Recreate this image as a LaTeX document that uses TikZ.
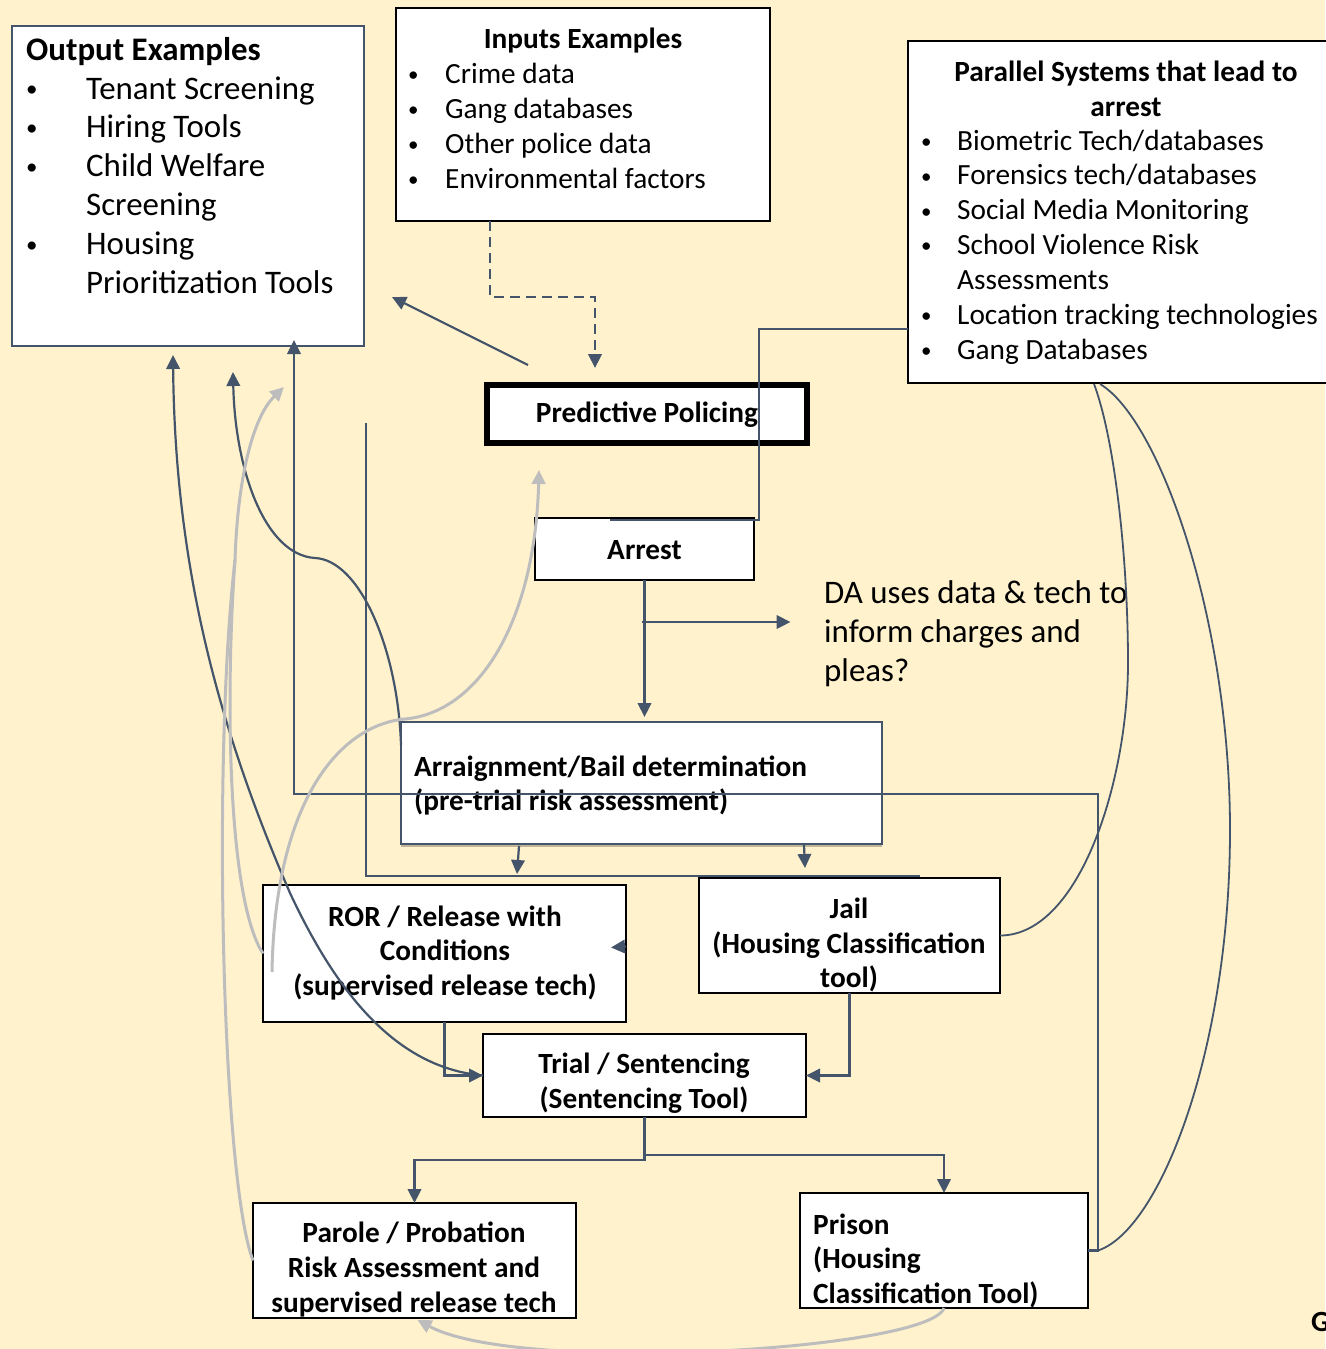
\documentclass[tikz,border=0pt]{standalone}
\usepackage{fontspec}
\setmainfont{Carlito}
\usetikzlibrary{arrows.meta,shadows,calc}
\definecolor{bgc}{HTML}{FFF2CC}
\definecolor{dk}{HTML}{44546A}
\definecolor{gr}{HTML}{BDBDBD}
\newcommand{\mytab}[2]{\begin{tabular}[t]{@{}#1@{}}#2\end{tabular}}
\newcommand{\mybul}[2]{\raisebox{#2}{\fontsize{#1}{#1}\selectfont\textbullet}}
\begin{document}
\begin{tikzpicture}[x=1pt,y=-1pt,
  >={Triangle[length=14pt,width=13.5pt]},
  box/.style={draw=black, line width=2pt, fill=white, inner sep=0pt, outer sep=0pt},
  conn/.style={draw=dk, line width=2.2pt},
  thin/.style={draw=dk, line width=1.6pt},
  gconn/.style={draw=gr, line width=3pt},
  bfs/.style={font=\fontsize{29.3}{34.7}\selectfont\bfseries, inner sep=0pt},
  rgs/.style={font=\fontsize{29.3}{34.9}\selectfont, inner sep=0pt},
  big/.style={font=\fontsize{32.9}{38.9}\selectfont, inner sep=0pt}]
\fill[bgc] (0,0) rectangle (1325,1349);
\useasboundingbox (0,0) rectangle (1325,1349);

% boxes
\node[box, draw=dk, line width=1.5pt, minimum width=352pt, minimum height=320pt] (out) at (188,186) {};
\node[box, minimum width=374pt, minimum height=213pt] (inp) at (583,114.5) {};
\node[box, minimum width=432pt, minimum height=342pt] (par) at (1124,212) {};
\node[box, line width=6pt, minimum width=320pt, minimum height=58pt] (pp) at (647,414) {};
\node[box, minimum width=219pt, minimum height=62pt] (arrest) at (644.5,549) {};
\node[box, draw=dk, drop shadow={shadow xshift=0pt, shadow yshift=-3pt, opacity=0.25, fill=black}, minimum width=481pt, minimum height=122pt] (arr) at (641.5,783) {};
\node[box, minimum width=363pt, minimum height=137pt] (ror) at (444.5,953.5) {};
\node[box, minimum width=301pt, minimum height=115pt] (jail) at (849.5,935.5) {};
\node[box, minimum width=323pt, minimum height=83pt] (trial) at (644.5,1075.5) {};
\node[box, minimum width=323pt, minimum height=115pt] (parole) at (414.5,1260.5) {};
\node[box, minimum width=288pt, minimum height=115pt] (prison) at (944,1250.5) {};

% texts
\node[big, font=\fontsize{32.9}{38.9}\selectfont\bfseries, anchor=base west] (outT) at (26,60) {Output Examples};
\node[big, anchor=base west] (outL) at (26,99) {\mytab{p{60pt}@{}l}{\mybul{23}{2.5pt} & Tenant Screening\\ \mybul{23}{2.5pt} & Hiring Tools\\ \mybul{23}{2.5pt} & Child Welfare\\ & Screening\\ \mybul{23}{2.5pt} & Housing\\ & Prioritization Tools}};
\node[bfs, anchor=base] (inpT) at (583,48.5) {Inputs Examples};
\node[rgs, anchor=base west] (inpL) at (408,83.3) {\mytab{p{37pt}@{}l}{\mybul{21}{1.8pt} & Crime data\\ \mybul{21}{1.8pt} & Gang databases\\ \mybul{21}{1.8pt} & Other police data\\ \mybul{21}{1.8pt} & Environmental factors}};
\node[bfs, anchor=base] (parT) at (1126,81.7) {\mytab{c}{Parallel Systems that lead to\\arrest}};
\node[rgs, anchor=base west] (parL) at (921,150) {\mytab{p{36pt}@{}l}{\mybul{21}{1.8pt} & Biometric Tech/databases\\ \mybul{21}{1.8pt} & Forensics tech/databases\\ \mybul{21}{1.8pt} & Social Media Monitoring\\ \mybul{21}{1.8pt} & School Violence Risk\\ & Assessments\\ \mybul{21}{1.8pt} & Location tracking technologies\\ \mybul{21}{1.8pt} & Gang Databases}};
\node[bfs, anchor=base] (ppT) at (647,422.7) {Predictive Policing};
\node[bfs, anchor=base] (arrestT) at (644.5,559.3) {Arrest};
\node[bfs, anchor=base west] (arrT) at (414,776) {\mytab{l}{Arraignment/Bail determination\\(pre-trial risk assessment)}};
\node[big, anchor=base west] (da) at (824,603.7) {\mytab{l}{DA uses data \& tech to\\inform charges and\\pleas?}};
\node[bfs, anchor=base] (rorT) at (445,926) {\mytab{c}{ROR / Release with\\Conditions\\(supervised release tech)}};
\node[bfs, anchor=base] (jailT) at (849,918.3) {\mytab{c}{Jail\\(Housing Classification\\tool)}};
\node[bfs, font=\fontsize{29.3}{35.5}\selectfont\bfseries, anchor=base] (trialT) at (644,1073.3) {\mytab{c}{Trial / Sentencing\\(Sentencing Tool)}};
\node[bfs, anchor=base] (paroleT) at (414,1242.7) {\mytab{c}{Parole / Probation\\Risk Assessment and\\supervised release tech}};
\node[bfs, anchor=base west] (prisonT) at (813,1234) {\mytab{l}{Prison\\(Housing\\Classification Tool)}};
\node[bfs, anchor=base west] (gT) at (1311,1331) {G};

% connectors
\draw[conn, dash pattern=on 10pt off 6pt, ->] ($(inp.south west)+(94,0)$) |- (595,297) -- ($(pp.north)+(-52,-17)$);
\draw[conn, ->] ($(pp.north west)+(41,-20)$) -- ($(out.east)+(28,111)$);
\draw[thin] ($(par.west)+(0,117)$) -| ($(arrest.north east)+(5,2)$) -- ($(arrest.north west)+(75,2)$);
\draw[conn, ->] (arrest.south) -- ($(arr.north)+(3,-5)$);
\coordinate (dab) at ($(arrest.south)+(-3,42)$);
\draw[conn, ->] (dab) -- ($(dab)+(149,0)$);
\draw[conn, ->] ($(arr.south west)+(118,2)$) -- ($(arr.south west)+(116,30)$);
\draw[conn, ->] ($(arr.south west)+(403,1)$) -- ($(arr.south west)+(404,24)$);
\coordinate (v1) at (366,423);
\coordinate (v2) at (920,876);
\draw[thin] (v1) |- (v2);
\draw[conn, ->] (prison.east) -- ++(10,0) -- ++(0,-456.5) -| ($(out.south west)+(282,-6)$);
\draw[thin, line width=1.8pt] ($(par.south)+(-30,1)$) .. controls (1115,440) and (1128,560) .. (1128,663) .. controls (1128,780) and (1080,935.5) .. (jail.east);
\draw[thin, line width=1.8pt] ($(par.south)+(-24,1)$) .. controls (1160,420) and (1230,620) .. (1230,830) .. controls (1230,1050) and (1160,1230) .. ($(prison.east)+(10,0)$);
\draw[conn, ->] ($(arr.north west)+(0,23)$) .. controls (398,650) and (360,560) .. (315,558) .. controls (265,555) and (235,470) .. ($(out.south west)+(221,26)$);
\draw[conn, ->] (trial.west) .. controls (400,1068) and (340,1000) .. (290,893) .. controls (215,720) and (175,560) .. ($(out.south west)+(161,9)$);
\draw[gconn, ->] ($(ror.north west)+(9,87)$) .. controls (275,800) and (340,725) .. (405,719) .. controls (480,712) and (535,620) .. ($(pp.south)+(-108,27)$);
\coordinate (gm) at (235,560);
\draw[gconn] (ror.west) .. controls (228,900) and (225,700) .. (gm);
\draw[gconn] (parole.west) .. controls (222,1180) and (212,760) .. (gm);
\draw[gconn, ->] (gm) .. controls (238,470) and (255,415) .. ($(out.south west)+(272,41)$);
\draw[gconn, ->] (prison.south) .. controls (930,1350) and (520,1375) .. ($(parole.south)+(3,2)$);
\draw[conn, ->] (ror.south) |- (trial.west);
\draw[conn, ->] (jail.south) |- (trial.east);
\draw[conn, ->] (trial.south) -- ++(0,43) -| (parole.north);
\draw[conn, ->] (trial.south) -- ++(0,38) -| (prison.north);
\draw[conn, ->] ($(ror.east)+(0,-7)$) -- ($(ror.east)+(-15,-6)$);
\end{tikzpicture}
\end{document}
